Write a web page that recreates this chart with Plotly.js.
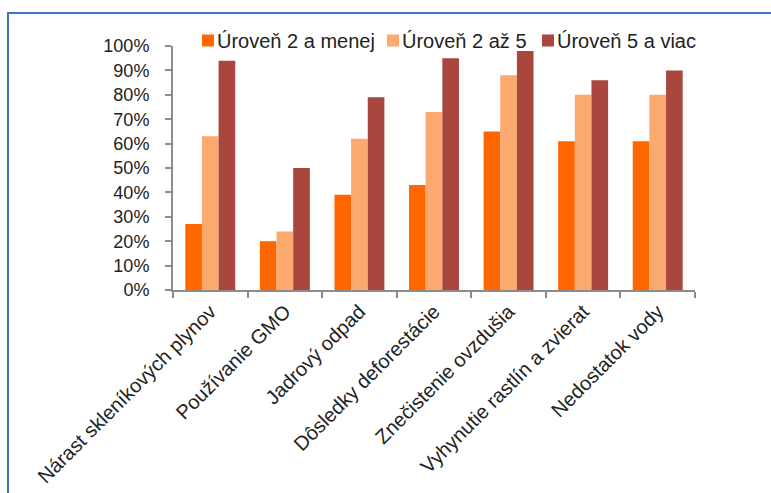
<!DOCTYPE html>
<html>
<head>
<meta charset="utf-8">
<script src="https://cdn.plot.ly/plotly-3.0.1.min.js"></script>
<style>
  html, body { margin: 0; padding: 0; background: #fff; }
  #wrap { position: relative; width: 771px; height: 493px; overflow: hidden; }
  #chart { width: 771px; height: 493px; }
  #frame {
    position: absolute; left: 7px; top: 12px; width: 800px; height: 520px;
    border-left: 2px solid #4472C4; border-top: 2px solid #4472C4;
    pointer-events: none;
  }
</style>
</head>
<body>
<div id="wrap">
  <div id="chart"></div>
  <div id="frame"></div>
</div>
<script>
// Environmental problems by education level (share of respondents, %)
const categories = [
  'Nárast skleníkových plynov',
  'Používanie GMO',
  'Jadrový odpad',
  'Dôsledky deforestácie',
  'Znečistenie ovzdušia',
  'Vyhynutie rastlín a zvierat',
  'Nedostatok vody'
];
const seriesNames = ['Úroveň 2 a menej', 'Úroveň 2 až 5', 'Úroveň 5 a viac'];
const level2OrLess = [27, 20, 39, 43, 65, 61, 61];
const level2To5    = [63, 24, 62, 73, 88, 80, 80];
const level5Plus   = [94, 50, 79, 95, 98, 86, 90];
const yTickValues  = [0, 10, 20, 30, 40, 50, 60, 70, 80, 90, 100];
const yTickLabels  = ['0%', '10%', '20%', '30%', '40%', '50%', '60%', '70%', '80%', '90%', '100%'];

const colors = ['#FF6600', '#FBA96F', '#A9473E'];
const seriesValues = [level2OrLess, level2To5, level5Plus];

const W = 771, H = 493;
const M = { l: 173, r: 76, t: 46, b: 203 };
const plotW = W - M.l - M.r, plotH = H - M.t - M.b;
const px2x = px => (px - M.l) / plotW;
const px2y = py => (H - M.b - py) / plotH;

const FONT = '"Liberation Sans", Arial, sans-serif';
const TEXT = '#222222';
const AXIS = '#8c8c8c';

const traces = seriesValues.map((vals, i) => ({
  type: 'bar',
  name: seriesNames[i],
  x: categories,
  y: vals,
  marker: { color: colors[i], line: { width: 0 } },
  showlegend: false,
  hoverinfo: 'x+y+name'
}));

// legend drawn as swatches + labels across the top
const legendX = [202, 387, 542];
const legendY = 40.5;
const shapes = [];
const annotations = [];
seriesNames.forEach((name, i) => {
  shapes.push({
    type: 'rect', xref: 'paper', yref: 'paper',
    x0: px2x(legendX[i]), x1: px2x(legendX[i] + 12),
    y0: px2y(legendY + 6), y1: px2y(legendY - 6),
    fillcolor: colors[i], line: { width: 0 }
  });
  annotations.push({
    xref: 'paper', yref: 'paper',
    x: px2x(legendX[i] + 13), y: px2y(legendY),
    xanchor: 'left', yanchor: 'middle',
    text: name, showarrow: false,
    font: { family: FONT, size: 20, color: TEXT }
  });
});

const layout = {
  width: W, height: H,
  margin: M,
  paper_bgcolor: '#ffffff',
  plot_bgcolor: '#ffffff',
  barmode: 'group',
  bargap: 0.33,
  bargroupgap: 0,
  showlegend: false,
  font: { family: FONT, size: 20, color: TEXT },
  xaxis: {
    type: 'category',
    showgrid: false, zeroline: false,
    showline: true, linecolor: AXIS, linewidth: 2,
    ticks: 'outside', tickson: 'boundaries', ticklen: 6, tickwidth: 2, tickcolor: AXIS,
    tickangle: -45,
    tickfont: { family: FONT, size: 20, color: TEXT }
  },
  yaxis: {
    range: [0, 100],
    tickvals: yTickValues, ticktext: yTickLabels,
    showgrid: false, zeroline: false,
    showline: true, linecolor: AXIS, linewidth: 2,
    ticks: 'outside', ticklen: 6, tickwidth: 2, tickcolor: AXIS,
    ticklabelstandoff: 12,
    tickfont: { family: FONT, size: 18, color: TEXT }
  },
  shapes: shapes,
  annotations: annotations
};

Plotly.newPlot('chart', traces, layout, { displayModeBar: false, staticPlot: true });
</script>
</body>
</html>
